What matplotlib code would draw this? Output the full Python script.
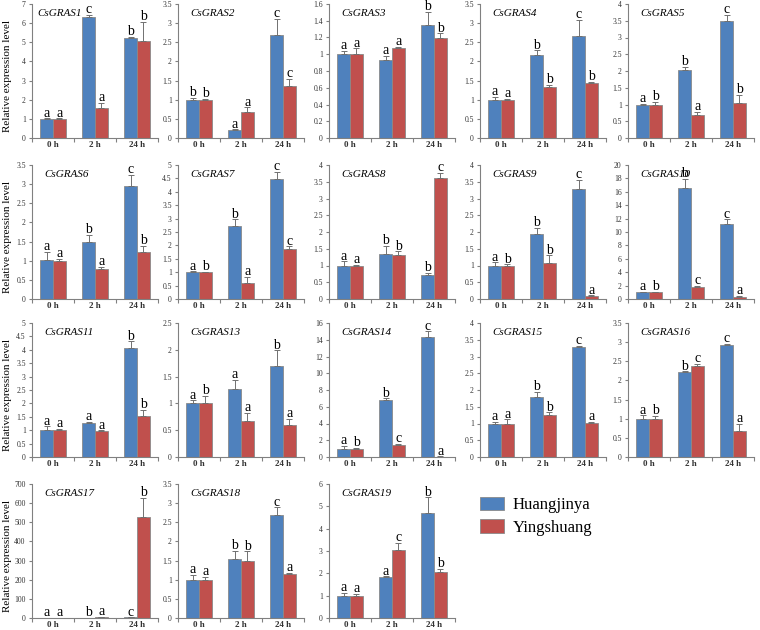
import matplotlib.pyplot as plt
import numpy as np
from matplotlib.ticker import FuncFormatter, MultipleLocator

plt.rcParams['font.family'] = ['Liberation Serif', 'DejaVu Serif']

times = ['0 h', '2 h', '24 h']
genes = ['CsGRAS1', 'CsGRAS2', 'CsGRAS3', 'CsGRAS4', 'CsGRAS5',
         'CsGRAS6', 'CsGRAS7', 'CsGRAS8', 'CsGRAS9', 'CsGRAS10',
         'CsGRAS11', 'CsGRAS13', 'CsGRAS14', 'CsGRAS15', 'CsGRAS16',
         'CsGRAS17', 'CsGRAS18', 'CsGRAS19']

# Huangjinya mean / error
huang = [[1.0, 6.33, 5.22], [1.0, 0.22, 2.69], [1.0, 0.93, 1.35], [1.0, 2.16, 2.66], [1.0, 2.02, 3.5],
         [1.01, 1.49, 2.96], [1.0, 2.72, 4.48], [1.0, 1.33, 0.72], [1.0, 1.95, 3.27], [1.0, 16.6, 11.2],
         [1.0, 1.28, 4.05], [1.0, 1.27, 1.7], [1.0, 6.8, 14.3], [1.0, 1.8, 3.27], [1.0, 2.22, 2.92],
         [1.0, 2.0, 3.0], [1.0, 1.55, 2.68], [1.0, 1.84, 4.68]]
huang_err = [[0.03, 0.1, 0.06], [0.05, 0.01, 0.42], [0.04, 0.05, 0.16], [0.08, 0.13, 0.42], [0.02, 0.1, 0.18],
             [0.22, 0.19, 0.28], [0.03, 0.26, 0.26], [0.12, 0.26, 0.07], [0.1, 0.18, 0.29], [0.1, 1.3, 0.7],
             [0.15, 0.03, 0.27], [0.06, 0.17, 0.29], [0.35, 0.2, 0.7], [0.05, 0.15, 0.05], [0.09, 0.02, 0.03],
             [0.5, 0.5, 0.5], [0.13, 0.21, 0.21], [0.12, 0.02, 0.72]]
# Yingshuang mean / error
ying = [[1.0, 1.55, 5.08], [1.0, 0.67, 1.37], [1.0, 1.07, 1.19], [0.99, 1.33, 1.43], [1.0, 0.68, 1.05],
        [0.99, 0.79, 1.23], [1.0, 0.59, 1.88], [1.0, 1.3, 3.62], [1.0, 1.07, 0.08], [1.0, 1.75, 0.35],
        [1.0, 0.97, 1.52], [1.01, 0.67, 0.59], [1.0, 1.4, 0.05], [1.0, 1.24, 1.02], [1.0, 2.37, 0.67],
        [1.0, 5.0, 528], [1.0, 1.48, 1.15], [1.0, 3.05, 2.04]]
ying_err = [[0.03, 0.28, 1.0], [0.03, 0.13, 0.18], [0.07, 0.02, 0.06], [0.03, 0.06, 0.04], [0.08, 0.1, 0.24],
            [0.06, 0.05, 0.16], [0.02, 0.23, 0.08], [0.02, 0.12, 0.15], [0.04, 0.24, 0.03], [0.1, 0.2, 0.1],
            [0.05, 0.03, 0.23], [0.13, 0.15, 0.12], [0.1, 0.15, 0.02], [0.12, 0.1, 0.03], [0.08, 0.07, 0.19],
            [0.5, 1.0, 100], [0.07, 0.26, 0.03], [0.08, 0.32, 0.15]]
huang_sig = ['acb', 'bac', 'aab', 'abc', 'abc', 'abc', 'abc', 'abb', 'abc', 'abc',
             'aab', 'aab', 'abc', 'abc', 'abc', 'abc', 'abc', 'aab']
ying_sig = ['aab', 'bac', 'aab', 'abb', 'bab', 'aab', 'bac', 'abc', 'bba', 'bca',
            'aab', 'baa', 'bca', 'aba', 'bca', 'aab', 'aba', 'acb']
ymax = [7, 3.5, 1.6, 3.5, 4, 3.5, 5, 4, 4, 20, 5, 2.5, 16, 4, 3.5, 700, 3.5, 6]
ystep = [1, 0.5, 0.2, 0.5, 0.5, 0.5, 0.5, 0.5, 0.5, 2, 0.5, 0.5, 2, 0.5, 0.5, 100, 0.5, 1]

blue = '#4F81BD'
red = '#C0504D'
W, H = 760, 630
lefts = [32, 178, 329, 480, 628]
tops = [4, 165, 323, 484]
aw, ah = 126, 134

fig = plt.figure(figsize=(7.6, 6.3), dpi=100)
x = np.arange(3)
bw = 0.3
fmt = FuncFormatter(lambda v, p: '%g' % v)

for i, g in enumerate(genes):
    r, c = divmod(i, 5)
    ax = fig.add_axes([lefts[c] / W, 1 - (tops[r] + ah) / H, aw / W, ah / H])
    ekw = dict(ecolor='#707070', elinewidth=0.7, capsize=2, capthick=0.7)
    b1 = ax.bar(x - bw / 2, huang[i], bw, color=blue, edgecolor='#8a8a8a', linewidth=0.6,
                yerr=[np.zeros(3), huang_err[i]], error_kw=ekw, label='Huangjinya')
    b2 = ax.bar(x + bw / 2, ying[i], bw, color=red, edgecolor='#8a8a8a', linewidth=0.6,
                yerr=[np.zeros(3), ying_err[i]], error_kw=ekw, label='Yingshuang')
    off = ymax[i] * 0.012
    for j in range(3):
        ax.text(x[j] - bw / 2, huang[i][j] + huang_err[i][j] + off, huang_sig[i][j],
                ha='center', va='baseline', fontsize=10)
        ax.text(x[j] + bw / 2, ying[i][j] + ying_err[i][j] + off, ying_sig[i][j],
                ha='center', va='baseline', fontsize=10)
    ax.set_xlim(-0.5, 2.5)
    ax.set_ylim(0, ymax[i])
    ax.yaxis.set_major_locator(MultipleLocator(ystep[i]))
    ax.yaxis.set_major_formatter(fmt)
    ax.set_xticks([-0.5, 0.5, 1.5, 2.5])
    ax.set_xticklabels([])
    ax.set_xticks(x, minor=True)
    ax.set_xticklabels(times, minor=True, fontsize=6.5, fontweight='bold', color='#333333')
    ax.tick_params(axis='x', which='minor', length=0, pad=2.5)
    ax.tick_params(axis='x', which='major', length=3, color='#808080')
    ax.tick_params(axis='y', labelsize=5.5, colors='#333333', length=2.5, pad=2)
    ax.tick_params(axis='y', color='#808080')
    for s in ['top', 'right']:
        ax.spines[s].set_visible(False)
    for s in ['left', 'bottom']:
        ax.spines[s].set_color('#808080')
        ax.spines[s].set_linewidth(0.8)
    tx = 0.04 if i == 0 else 0.1
    ax.text(tx, 0.93, g, transform=ax.transAxes, fontsize=8, style='italic', va='center')
    if c == 0:
        ax.set_ylabel('Relative expression level', fontsize=8)
        ax.yaxis.set_label_coords(-20 / aw, 0.46)

fig.legend(handles=[b1, b2], labels=['Huangjinya', 'Yingshuang'], loc='upper left',
           bbox_to_anchor=(480 / W, 1 - 497 / H), frameon=False, fontsize=12,
           borderpad=0, borderaxespad=0,
           handlelength=1.45, handleheight=0.85, handletextpad=0.5, labelspacing=0.35)

fig.savefig('out.png', dpi=100)
